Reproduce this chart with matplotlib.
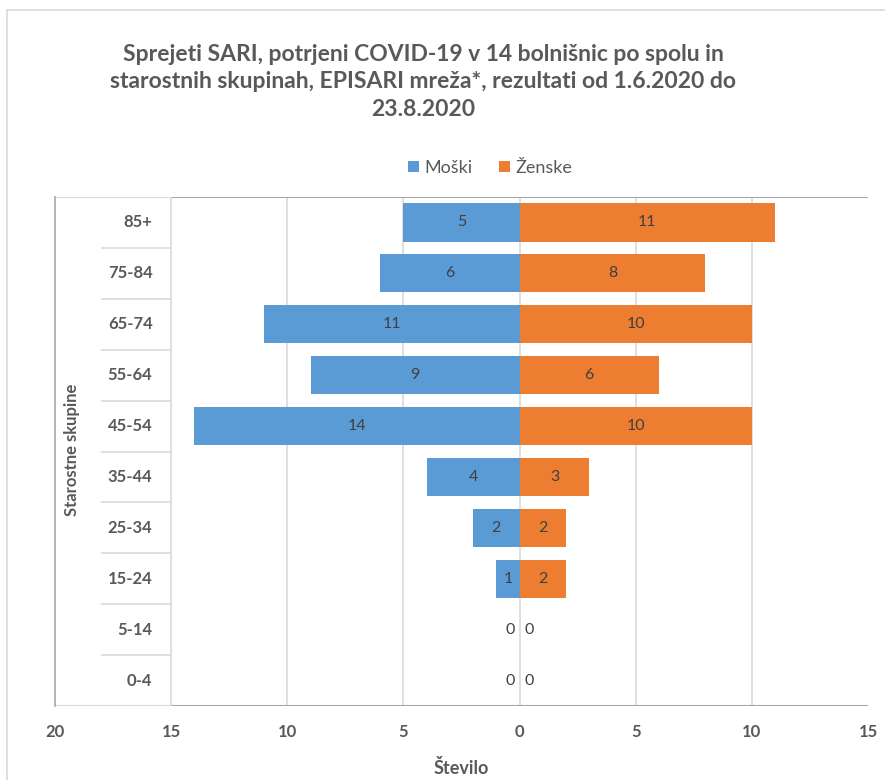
import numpy as np
import matplotlib.pyplot as plt
from matplotlib.patches import Rectangle

# data (top to bottom in the picture)
groups = ["85+", "75-84", "65-74", "55-64", "45-54", "35-44", "25-34", "15-24", "5-14", "0-4"]
moski = [5, 6, 11, 9, 14, 4, 2, 1, 0, 0]
zenske = [11, 8, 10, 6, 10, 3, 2, 2, 0, 0]
xticks = [-20, -15, -10, -5, 0, 5, 10, 15]

BLUE = "#5B9BD5"
ORANGE = "#ED7D31"
TXT = "#595959"

plt.rcParams['font.family'] = ['Lato', 'DejaVu Sans']

fig = plt.figure(figsize=(8.85, 7.8), dpi=100)
fig.patches.append(Rectangle((7 / 885, -0.05), 1.1, 1.05 - 10 / 780, transform=fig.transFigure,
                             fill=False, edgecolor="#d9d9d9", linewidth=1.2))
ax = fig.add_axes([55 / 885, 1 - 706 / 780, (868 - 55) / 885, (706 - 197) / 780])

y = np.arange(len(groups))
ax.barh(y, -np.array(moski), height=0.75, color=BLUE, label="Moški", zorder=3)
ax.barh(y, zenske, height=0.75, color=ORANGE, label="Ženske", zorder=3)

for yi, m, z in zip(y, moski, zenske):
    if m > 0:
        ax.text(-m / 2, yi, str(m), ha="center", va="center", fontsize=11.5, color="#404040", zorder=4)
    else:
        ax.text(-0.2, yi, "0", ha="right", va="center", fontsize=11.5, color="#404040", zorder=4)
    if z > 0:
        ax.text(z / 2, yi, str(z), ha="center", va="center", fontsize=11.5, color="#404040", zorder=4)
    else:
        ax.text(0.2, yi, "0", ha="left", va="center", fontsize=11.5, color="#404040", zorder=4)

# category labels sit inside the plot on the left
for yi, g in zip(y, groups):
    ax.text(-15.8, yi, g, ha="right", va="center", fontsize=12, fontweight="bold", color=TXT)
ax.hlines(y[:-1] + 0.5, -18, -15, color="#d9d9d9", linewidth=1.2)

ax.set_xlim(-20, 15)
ax.set_ylim(len(groups) - 0.5, -0.5)
ax.set_xticks(xticks)
ax.set_xticklabels([str(abs(t)) for t in xticks])
ax.set_yticks([])
ax.tick_params(axis="x", length=0, pad=13, labelsize=12, labelcolor=TXT)
for lab in ax.get_xticklabels():
    lab.set_fontweight("bold")

for t in xticks[1:-1]:
    ax.axvline(t, color="#d9d9d9", linewidth=1.2, zorder=1)

for s in ["top", "bottom", "right"]:
    ax.spines[s].set_visible(False)
ax.spines["left"].set_color("#a6a6a6")
ax.spines["left"].set_linewidth(1.2)
ax.axhline(-0.5, xmin=1 / 7, xmax=1, color="#a6a6a6", linewidth=1.5, zorder=2)
ax.axhline(-0.5, xmin=0, xmax=1 / 7, color="#d9d9d9", linewidth=1.5, zorder=2)
ax.axhline(len(groups) - 0.5, xmin=1 / 7, xmax=1, color="#a6a6a6", linewidth=1.5, zorder=2)
ax.axhline(len(groups) - 0.5, xmin=0, xmax=1 / 7, color="#d9d9d9", linewidth=1.5, zorder=2)

ax.set_xlabel("Število", fontsize=13, fontweight="bold", color=TXT, labelpad=14)
fig.text(72 / 885, 1 - 450 / 780, "Starostne skupine", rotation=90, ha="center", va="center",
         fontsize=12, fontweight="bold", color=TXT)

fig.text(0.478, 1 - 82 / 780,
         "Sprejeti SARI, potrjeni COVID-19 v 14 bolnišnic po spolu in\n"
         "starostnih skupinah, EPISARI mreža*, rezultati od 1.6.2020 do\n23.8.2020",
         ha="center", va="center", fontsize=16.5, fontweight="bold", color=TXT, linespacing=1.4)

fig.legend(loc="center", bbox_to_anchor=(490 / 885, 1 - 168 / 780), ncol=2, frameon=False,
           fontsize=13, handlelength=0.6, handleheight=0.6, handletextpad=0.3, columnspacing=1.5,
           labelcolor=TXT)

fig.savefig("out.png", dpi=100)
